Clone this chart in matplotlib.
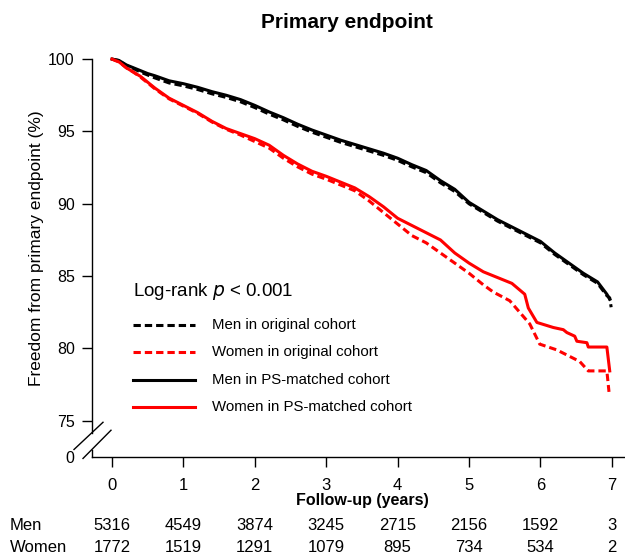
import numpy as np
import matplotlib
matplotlib.use("Agg")
import matplotlib.pyplot as plt
from matplotlib.lines import Line2D

plt.rcParams["font.family"] = ["Liberation Sans", "DejaVu Sans"]

# Kaplan-Meier readings (years, % free from primary endpoint)
men_ps_t = [0, 0.1, 0.2, 0.3, 0.4, 0.5, 0.6, 0.8, 1.0, 1.2, 1.4, 1.6, 1.8, 2.0, 2.2, 2.4, 2.6, 2.8,
            3.0, 3.2, 3.4, 3.6, 3.8, 4.0, 4.2, 4.4, 4.6, 4.8, 5.0, 5.2, 5.4, 5.6, 5.8, 6.0, 6.2,
            6.4, 6.6, 6.8, 6.93, 6.97]
men_ps_s = [100, 99.9, 99.6, 99.4, 99.2, 99.0, 98.85, 98.5, 98.3, 98.05, 97.75, 97.5, 97.2, 96.8,
            96.35, 95.95, 95.5, 95.1, 94.75, 94.4, 94.1, 93.8, 93.5, 93.15, 92.7, 92.3, 91.6, 91.0,
            90.1, 89.5, 88.9, 88.4, 87.9, 87.4, 86.6, 85.9, 85.2, 84.6, 83.75, 83.4]
men_orig_t = [0, 0.1, 0.2, 0.3, 0.4, 0.5, 0.6, 0.8, 1.0, 1.2, 1.4, 1.6, 1.8, 2.0, 2.2, 2.4, 2.6,
              2.8, 3.0, 3.2, 3.4, 3.6, 3.8, 4.0, 4.2, 4.4, 4.6, 4.8, 5.0, 5.2, 5.4, 5.6, 5.8, 6.0,
              6.2, 6.4, 6.6, 6.8, 6.93, 6.97, 6.99]
men_orig_s = [100, 99.9, 99.55, 99.35, 99.1, 98.9, 98.7, 98.35, 98.15, 97.9, 97.6, 97.35, 97.05,
              96.65, 96.2, 95.8, 95.35, 94.95, 94.6, 94.25, 93.95, 93.65, 93.35, 93.0, 92.55,
              92.15, 91.45, 90.85, 90.0, 89.4, 88.8, 88.3, 87.8, 87.3, 86.5, 85.8, 85.1, 84.5,
              83.65, 83.5, 82.85]

women_ps_t = [0, 0.1, 0.2, 0.3, 0.4, 0.5, 0.6, 0.8, 1.0, 1.2, 1.4, 1.6, 1.8, 2.0, 2.2, 2.4, 2.6,
              2.8, 3.0, 3.2, 3.4, 3.6, 3.8, 4.0, 4.2, 4.4, 4.6, 4.8, 5.0, 5.2, 5.4, 5.6, 5.78,
              5.83, 5.95, 6.18, 6.32, 6.37, 6.48, 6.51, 6.65, 6.67, 6.93, 6.97]
women_ps_s = [100, 99.8, 99.4, 99.1, 98.8, 98.4, 98.0, 97.3, 96.8, 96.3, 95.7, 95.2, 94.85, 94.5,
              94.05, 93.35, 92.75, 92.25, 91.9, 91.5, 91.1, 90.5, 89.8, 89.0, 88.5, 88.0, 87.5,
              86.6, 85.9, 85.3, 84.9, 84.5, 83.75, 82.8, 81.8, 81.45, 81.3, 81.1, 80.85, 80.5,
              80.4, 80.1, 80.1, 78.45]
women_orig_t = [0, 0.1, 0.2, 0.3, 0.4, 0.5, 0.6, 0.8, 1.0, 1.2, 1.4, 1.6, 1.8, 2.0, 2.2, 2.4, 2.6,
                2.8, 3.0, 3.2, 3.4, 3.6, 3.8, 4.0, 4.2, 4.4, 4.6, 4.8, 5.0, 5.2, 5.34, 5.57, 5.85,
                5.99, 6.23, 6.55, 6.67, 6.93, 6.96]
women_orig_s = [100, 99.8, 99.4, 99.1, 98.75, 98.35, 97.95, 97.25, 96.75, 96.25, 95.65, 95.15,
                94.75, 94.3, 93.85, 93.15, 92.55, 92.05, 91.7, 91.3, 90.9, 90.2, 89.4, 88.6, 87.8,
                87.3, 86.6, 85.9, 85.2, 84.4, 83.9, 83.3, 81.7, 80.3, 79.9, 79.1, 78.45, 78.45,
                77.0]

years = [0, 1, 2, 3, 4, 5, 6, 7]
y_ticks = [75, 80, 85, 90, 95, 100]
at_risk_men = [5316, 4549, 3874, 3245, 2715, 2156, 1592, 3]
at_risk_women = [1772, 1519, 1291, 1079, 895, 734, 534, 2]

curves = [
    (men_orig_t, men_orig_s, "black", "--", "Men in original cohort"),
    (women_orig_t, women_orig_s, "red", "--", "Women in original cohort"),
    (men_ps_t, men_ps_s, "black", "-", "Men in PS-matched cohort"),
    (women_ps_t, women_ps_s, "red", "-", "Women in PS-matched cohort"),
]
DASH = (2.4, 1.3)

W, H = 625, 555
fig = plt.figure(figsize=(W / 100, H / 100), dpi=100)
ax = fig.add_axes([92 / W, 1 - 457 / H, (624 - 92) / W, (457 - 52) / H])

y_bottom = 72.5
for t, s, color, ls, label in curves:
    kw = {"dashes": DASH} if ls == "--" else {}
    ax.plot(t, s, color=color, linestyle=ls, linewidth=2.2, **kw)

ax.set_xlim(-0.28, 7.17)
ax.set_ylim(y_bottom, 100.49)

ax.spines["top"].set_visible(False)
ax.spines["right"].set_visible(False)
ax.spines["left"].set_visible(False)
ax.spines["bottom"].set_linewidth(1.0)

# broken left axis
x0 = ax.get_xlim()[0]
ax.plot([x0, x0], [74.17, 100], color="black", lw=1.0, clip_on=False)
ax.plot([x0, x0], [72.97, y_bottom], color="black", lw=1.0, clip_on=False)
ax.plot([-0.532, -0.126], [73.02, 74.9], color="black", lw=1.0, clip_on=False)
ax.plot([-0.406, -0.014], [72.4, 74.35], color="black", lw=1.0, clip_on=False)

ax.set_yticks(y_ticks + [y_bottom])
ax.set_yticklabels([str(v) for v in y_ticks] + ["0"])
ax.tick_params(axis="y", direction="out", length=7.5, width=1.0, labelsize=11.5, pad=5)
ax.get_yticklines()[-2].set_visible(False)
ax.get_yticklines()[-1].set_visible(False)

ax.set_xticks(years)
ax.set_xticklabels([str(v) for v in years])
ax.tick_params(axis="x", direction="out", length=7, width=1.0, labelsize=12, pad=8)
ax.set_ylabel("Freedom from primary endpoint (%)", fontsize=12.5)
ax.yaxis.set_label_coords((44 - 92) / (624 - 92), (457 - 248) / (457 - 52))

fig.text(347 / W, 1 - 22 / H, "Primary endpoint", ha="center", va="center",
         fontsize=15, fontweight="bold")
fig.text(362 / W, 1 - 500 / H, "Follow-up (years)", ha="center", va="center",
         fontsize=11.5, fontweight="bold")

# numbers at risk
fig.text(10 / W, 1 - 526 / H, "Men", ha="left", va="center", fontsize=12)
fig.text(10 / W, 1 - 547 / H, "Women", ha="left", va="center", fontsize=12)
for yr, nm, nw in zip(years, at_risk_men, at_risk_women):
    ax.annotate(str(nm), xy=(yr, 0), xycoords=("data", "figure fraction"),
                xytext=(yr, 1 - 526 / H), textcoords=("data", "figure fraction"),
                ha="center", va="center", fontsize=12)
    ax.annotate(str(nw), xy=(yr, 0), xycoords=("data", "figure fraction"),
                xytext=(yr, 1 - 547 / H), textcoords=("data", "figure fraction"),
                ha="center", va="center", fontsize=12)

# legend
fig.text(133 / W, 1 - 292 / H, "Log-rank $\\it{p}$ < 0.001", ha="left", va="center", fontsize=13.5)
for i, (t, s, color, ls, label) in enumerate(curves):
    yy = 1 - (325 + i * 27.3) / H
    kw = {"dashes": DASH} if ls == "--" else {}
    fig.add_artist(Line2D([133 / W, 195 / W], [yy, yy], color=color, linestyle=ls,
                          linewidth=2.2, **kw))
    fig.text(212 / W, yy, label, ha="left", va="center", fontsize=10.8)

fig.savefig("out.png", dpi=100)
